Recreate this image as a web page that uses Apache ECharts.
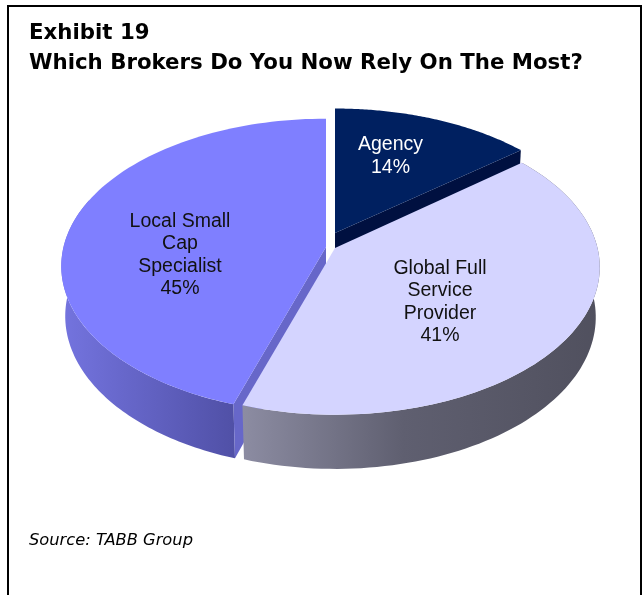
<!DOCTYPE html>
<html>
<head>
<meta charset="utf-8">
<style>html,body{margin:0;padding:0;background:#fff}#chart{width:643px;height:595px}</style>
<script src="https://cdn.jsdelivr.net/npm/echarts@6/dist/echarts.min.js"></script>
</head>
<body>
<div id="chart"></div>
<script>
// Slices, clockwise from twelve o'clock
const categories = ['Agency', 'Global Full\nService\nProvider', 'Local Small\nCap\nSpecialist'];
const shares = [14, 41, 45];
const headline = ['Exhibit 19', 'Which Brokers Do You Now Rely On The Most?'];
const sourceNote = 'Source: TABB Group';

// Per-slice styling
const topColors = ['#002060', '#d4d4ff', '#7f7fff'];
const cutColors = ['#001040', null, '#6767c9'];
const wallStops = [
  null,
  { from: 243, to: 600, stops: [[0, '#8c8ca2'], [0.45, '#5f5f70'], [1, '#50505e']] },
  { from: 61, to: 236, stops: [[0, '#7474df'], [1, '#5050a6']] }
];
const textColors = ['#ffffff', '#111111', '#111111'];
// Slices are painted back to front
const paintOrder = [1, 3, 2];

// Pixel position of each slice's apex (slices are pulled apart), its foreshortening and its label centre
const apexes = [[335, 233], [335, 248], [326, 247]];
const sliceScales = [[0.995, 0.97], [1, 1], [1, 1]];
const labelCentres = [[390.5, 156], [440, 302], [180, 255]];

// Tilted-disc projection
const RADIUS = 262.5, TILT = 145, DEPTH = 50.5, PERSPECTIVE = 0.13, SINK = 0.015;
function project(i, angle, r, h) {
  const u = Math.sin(angle) * r, v = Math.cos(angle) * r;
  const s = 1 / (1 + PERSPECTIVE * v + SINK * h);
  return [
    apexes[i][0] + RADIUS * sliceScales[i][0] * u * s,
    apexes[i][1] - TILT * sliceScales[i][1] * v * s + DEPTH * h * s
  ];
}
function rim(i, a0, a1, h) {
  const pts = [], n = 96;
  for (let k = 0; k <= n; k++) pts.push(project(i, a0 + (a1 - a0) * k / n, 1, h));
  return pts;
}

const total = shares.reduce((a, b) => a + b, 0);
const startShares = shares.map((_, i) => shares.slice(0, i).reduce((a, b) => a + b, 0));

function renderSlice(params, api) {
  const i = params.dataIndex;
  const a0 = api.value(1) / total * 2 * Math.PI;
  const a1 = a0 + api.value(0) / total * 2 * Math.PI;
  const z = paintOrder[i] * 10;
  const children = [];

  // Outer curved wall
  if (wallStops[i]) {
    const wall = wallStops[i];
    const end = i === 2 ? Math.min(a1, a0 + 1.6) : a1;
    children.push({
      type: 'polygon', z2: z,
      shape: { points: rim(i, a0, end, 0).concat(rim(i, a0, end, 1).reverse()) },
      style: {
        fill: {
          type: 'linear', global: true, x: wall.from, y: 0, x2: wall.to, y2: 0,
          colorStops: wall.stops.map(s => ({ offset: s[0], color: s[1] }))
        }
      }
    });
  }
  // Radial cut face turned towards the viewer
  if (cutColors[i]) {
    const edge = i === 0 ? a1 : a0;
    children.push({
      type: 'polygon', z2: z + 1,
      shape: { points: [project(i, edge, 0, 0), project(i, edge, 1, 0), project(i, edge, 1, 1), project(i, edge, 0, 1)] },
      style: { fill: cutColors[i] }
    });
  }
  // Top face
  children.push({
    type: 'polygon', z2: z + 2,
    shape: { points: [project(i, a0, 0, 0)].concat(rim(i, a0, a1, 0)) },
    style: { fill: topColors[i] }
  });
  // Value label
  children.push({
    type: 'text', z2: 100,
    style: {
      text: categories[i] + '\n' + api.value(0) + '%',
      x: labelCentres[i][0], y: labelCentres[i][1],
      align: 'center', verticalAlign: 'middle',
      fill: textColors[i], lineHeight: 22.5,
      font: '19.5px "Liberation Sans", Arial, sans-serif'
    }
  });
  return { type: 'group', children };
}

const chart = echarts.init(document.getElementById('chart'), null, { renderer: 'canvas' });
chart.setOption({
  animation: false,
  backgroundColor: '#ffffff',
  title: {
    text: headline.join('\n'), left: 29, top: 18, padding: 0,
    textStyle: { fontFamily: '"DejaVu Sans"', fontWeight: 'bold', fontSize: 21.3, lineHeight: 30.5, color: '#000' }
  },
  graphic: [
    { type: 'polyline', shape: { points: [[8, 595], [8, 6], [641, 6], [641, 595]] }, style: { stroke: '#000', lineWidth: 2, fill: null } },
    { type: 'text', left: 29, top: 533, style: { text: sourceNote, fill: '#000', font: 'italic 16.3px "DejaVu Sans"' } }
  ],
  series: [{
    type: 'custom',
    coordinateSystem: 'none',
    renderItem: renderSlice,
    encode: { value: 0 },
    data: shares.map((v, i) => ({ name: categories[i], value: [v, startShares[i]] }))
  }]
});
</script>
</body>
</html>
